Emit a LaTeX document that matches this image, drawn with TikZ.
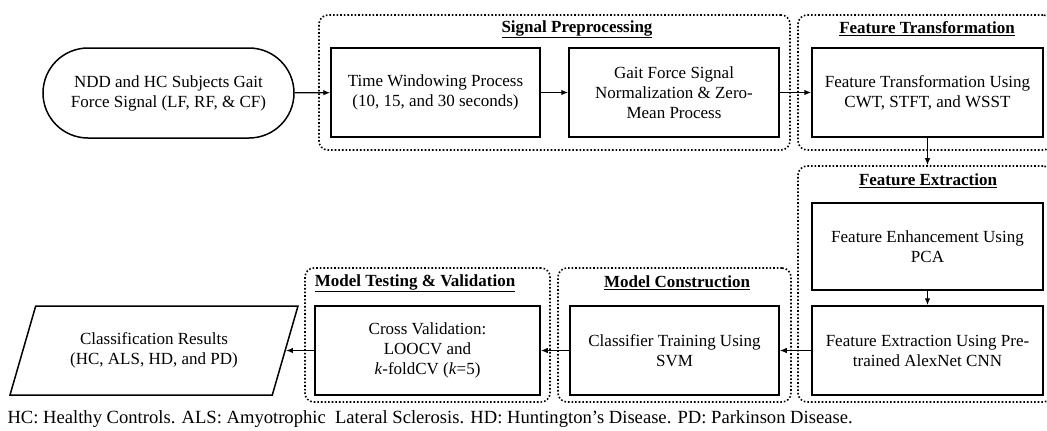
\documentclass[tikz,border=0pt]{standalone}
\usepackage{fontspec}
\setmainfont{Liberation Serif}
\usetikzlibrary{arrows.meta,shapes.misc,shapes.geometric}
\tikzset{
  txt/.style={font=\fontsize{17}{20}\selectfont, align=center},
  box/.style={txt, draw, line width=1.5pt, inner sep=2pt},
  grp/.style={draw, dotted, line width=1.6pt, rounded corners=9pt},
  ttl/.style={font=\fontsize{17}{20}\selectfont\bfseries},
  arr/.style={line width=1.3pt, -{Latex[length=7pt,width=5.5pt]}}
}
\begin{document}
\begin{tikzpicture}[x=1pt,y=-1pt]
    \useasboundingbox (0,0) rectangle (1047,431);
    % Groups
    \node[grp, minimum width=471, minimum height=135] (grpSP) at (554.5, 82.5) {};
    \node[grp, minimum width=254, minimum height=135] (grpFT) at (925, 82.5) {};
    \node[grp, minimum width=254, minimum height=236] (grpFE) at (925, 284) {};
    \node[grp, minimum width=233, minimum height=134] (grpMC) at (674.5, 335) {};
    \node[grp, minimum width=245, minimum height=134] (grpMT) at (427.5, 335) {};
    \node[ttl] (tSP) at (577, 29) {\underline{Signal Preprocessing}};
    \node[ttl] (tFT) at (927, 29) {\underline{Feature Transformation}};
    \node[ttl] (tFE) at (928, 181) {\underline{Feature Extraction}};
    \node[ttl] (tMC) at (677, 283) {\underline{Model Construction}};
    \node[ttl] (tMT) at (415, 283) {\underline{Model Testing \& Validation}};
    % Blocks
    \node[box, rounded rectangle, minimum width=255, minimum height=90] (src) at (168.5, 93) {NDD and HC Subjects Gait\\Force Signal (LF, RF, \& CF)};
    \node[box, minimum width=209, minimum height=89] (tw) at (435.5, 92.5) {Time Windowing Process\\(10, 15, and 30 seconds)};
    \node[box, minimum width=210, minimum height=89] (norm) at (674, 92.5) {Gait Force Signal\\Normalization \& Zero-\\Mean Process};
    \node[box, minimum width=231, minimum height=89] (ft) at (927.5, 92.5) {Feature Transformation Using\\CWT, STFT, and WSST};
    \node[box, minimum width=231, minimum height=87] (enh) at (927.5, 246.5) {Feature Enhancement Using\\PCA};
    \node[box, minimum width=231, minimum height=89] (ext) at (927.5, 350.5) {Feature Extraction Using Pre-\\trained AlexNet CNN};
    \node[box, minimum width=209, minimum height=89] (svm) at (674.5, 350.5) {Classifier Training Using\\SVM};
    \node[box, minimum width=225, minimum height=89] (cv) at (427.5, 350.5) {Cross Validation:\\LOOCV and\\\textit{k}-foldCV (\textit{k}=5)};
    \node[box, trapezium, trapezium left angle=57, trapezium right angle=123, trapezium stretches body, minimum width=288, minimum height=89] (res) at (154, 350.5) {Classification Results\\(HC, ALS, HD, and PD)};
    % Arrows
    \draw[arr] (src) -- (tw);
    \draw[arr] (tw) -- (norm);
    \draw[arr] (norm) -- (ft);
    \draw[arr] (ft.south) -- (ft.south |- grpFE.north);
    \draw[arr] (enh) -- (ext);
    \draw[arr] (ext) -- (svm);
    \draw[arr] (svm) -- (cv);
    \draw[arr] (cv) -- (res.east);
    % Caption
    \node[anchor=west, font=\fontsize{18.6}{21}\selectfont] (cap) at (4, 419) {HC: Healthy Controls. ALS: Amyotrophic\ \ Lateral Sclerosis. HD: Huntington’s Disease. PD: Parkinson Disease.};
\end{tikzpicture}
\end{document}
